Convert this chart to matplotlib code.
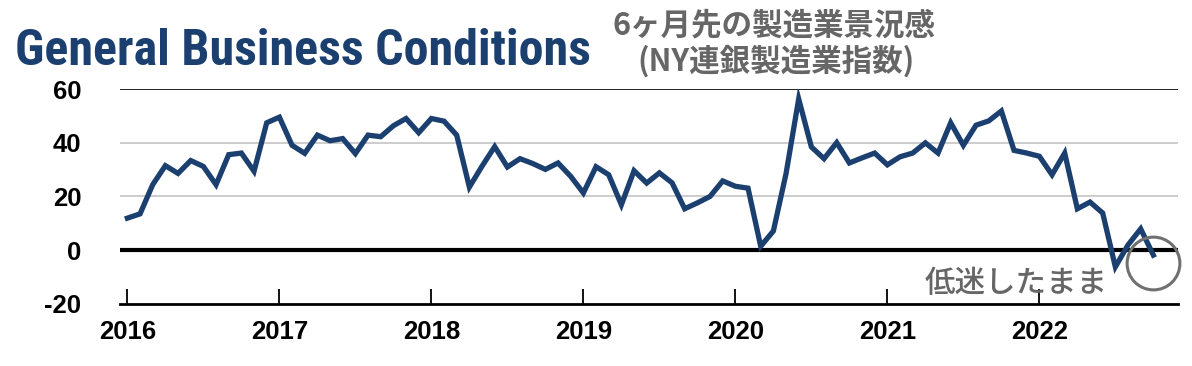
import matplotlib
matplotlib.use('Agg')
import matplotlib.pyplot as plt
import numpy as np

# NY連銀製造業指数: 6ヶ月先の景況感 (月次, 2016年1月〜2022年10月)
values = [
    11.9, 13.5, 24.4, 31.5, 28.6, 33.4, 31.2, 24.4, 35.6, 36.2, 29.4, 47.5,   # 2016
    49.6, 39.1, 36.1, 42.9, 40.8, 41.6, 36.0, 42.9, 42.3, 46.4, 49.1, 43.8,   # 2017
    49.1, 48.1, 42.9, 23.5, 31.3, 38.6, 31.0, 34.1, 32.3, 30.1, 32.5, 27.5,   # 2018
    21.3, 31.1, 28.1, 16.9, 29.6, 25.0, 28.8, 25.1, 15.4, 17.6, 20.0, 25.8,   # 2019
    23.8, 23.1, 1.4, 7.1, 28.5, 56.4, 38.5, 34.1, 40.1, 32.5, 34.4, 36.2,     # 2020
    31.8, 34.8, 36.2, 40.0, 36.2, 47.5, 39.1, 46.6, 48.2, 51.9, 37.2, 36.2,   # 2021
    35.0, 28.1, 36.2, 15.4, 17.9, 13.8, -6.3, 1.9, 7.9, -1.9,                 # 2022
]
year_labels = ['2016', '2017', '2018', '2019', '2020', '2021', '2022']
y_ticks = [-20, 0, 20, 40, 60]

navy = '#1b3f6f'
gray_txt = '#666666'

fig = plt.figure(figsize=(11.92, 3.66), dpi=100)
ax = fig.add_axes([0.1007, 0.1705, 0.8876, 0.5855])

x = np.arange(len(values))
ax.plot(x, values, color=navy, linewidth=3.8, solid_joinstyle='miter', zorder=5)

# 罫線
for yv in [20, 40]:
    ax.axhline(yv, color='#c8c8c8', linewidth=1.3, zorder=1)
ax.axhline(60, color='#222222', linewidth=1.4, zorder=2)
ax.axhline(0, color='black', linewidth=3.0, zorder=3)

ax.set_xlim(-0.58, 82.95)
ax.set_ylim(-20, 60)
for s in ['left', 'right', 'top']:
    ax.spines[s].set_visible(False)
ax.spines['bottom'].set_linewidth(2.0)

ax.set_yticks(y_ticks)
ax.set_yticklabels([str(v) for v in y_ticks])
ax.tick_params(axis='y', length=0, pad=28)
ax.set_xticks(np.arange(len(year_labels)) * 12)
ax.set_xticklabels(year_labels)
ax.tick_params(axis='x', direction='in', length=11, width=1.3, pad=12)
for lab in ax.get_xticklabels() + ax.get_yticklabels():
    lab.set_fontfamily('Liberation Sans')
    lab.set_fontweight('bold')
    lab.set_fontsize(18.5)

# 注記
ax.plot([x[-1]], [values[-1] - 2.8], marker='o', markersize=38, markerfacecolor='none',
        markeredgecolor='#707070', markeredgewidth=2.2, zorder=6, clip_on=False)
ax.text(70.2, -12.6, '低迷したまま', fontsize=22, color=gray_txt, fontweight='medium',
        family=['Noto Sans CJK JP', 'DejaVu Sans'], ha='center', va='center', zorder=7)

# タイトル
fig.text(0.013, 1 - 65 / 366, 'General Business Conditions', fontsize=36,
         fontweight='bold', fontstretch='condensed', color=navy,
         family=['Roboto Condensed', 'DejaVu Sans'], va='baseline', ha='left')
fig.text(774 / 1192, 1 - 25 / 366, '6ヶ月先の製造業景況感', fontsize=22, fontweight='bold',
         color=gray_txt, family=['Noto Sans CJK JP', 'DejaVu Sans'], ha='center', va='center')
fig.text(776 / 1192, 1 - 61 / 366, '(NY連銀製造業指数)', fontsize=22, fontweight='bold',
         color=gray_txt, family=['Noto Sans CJK JP', 'DejaVu Sans'], ha='center', va='center')

plt.savefig('out.png', dpi=100)
